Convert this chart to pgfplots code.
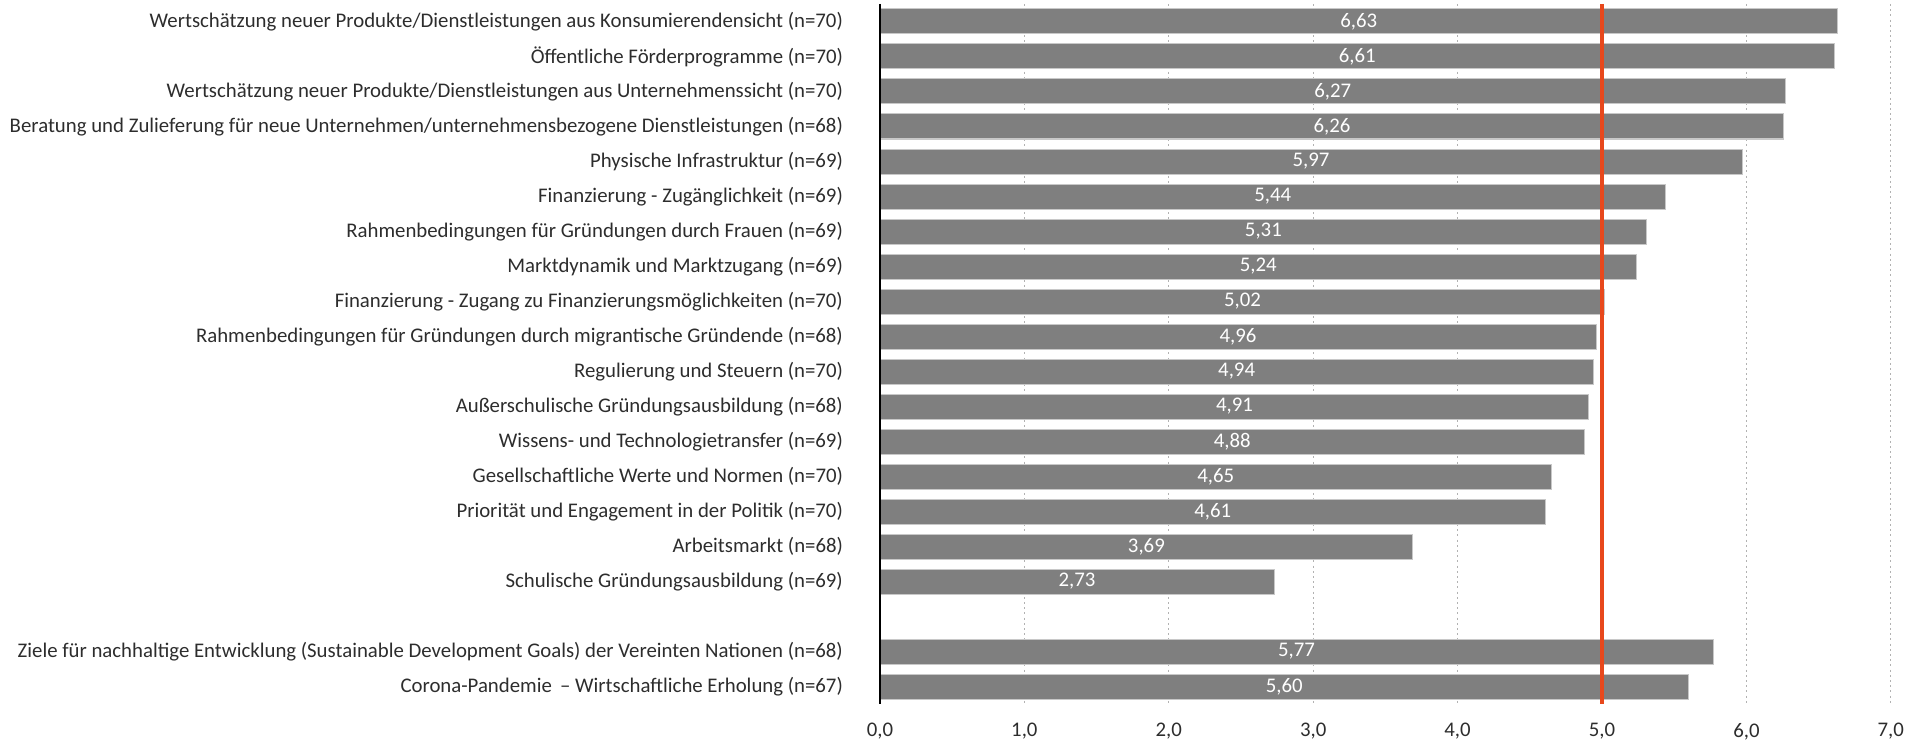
\documentclass[border=0pt]{standalone}
\usepackage{fontspec}
\setmainfont{Carlito}
\usepackage{pgfplots}
\usepackage{pgfplotstable}
\pgfplotsset{compat=1.18}

\definecolor{bargray}{RGB}{127,127,127}
\definecolor{baredge}{RGB}{200,200,200}
\definecolor{refred}{RGB}{232,72,28}
\definecolor{txt}{RGB}{45,45,45}

% position, value (position 17 is the gap)
\pgfplotstableread{
pos v
0 6.63
1 6.61
2 6.27
3 6.26
4 5.97
5 5.44
6 5.31
7 5.24
8 5.02
9 4.96
10 4.94
11 4.91
12 4.88
13 4.65
14 4.61
15 3.69
16 2.73
18 5.77
19 5.60
}\scores

\begin{document}
\begin{tikzpicture}[font=\fontsize{10.4}{12.5}\selectfont, text=txt]
\begin{axis}[
    x=72.2pt, y=17.5pt,
    y dir=reverse,
    xmin=0, xmax=7,
    ymin=-0.5, ymax=19.5,
    axis lines*=left,
    axis line style={-},
    x axis line style={draw=none},
    y axis line style={draw=none},
    major tick length=0pt,
    xtick={0,1,...,7},
    xmajorgrids,
    grid style={gray!60, line width=0.6pt, dash pattern=on 1pt off 1.6pt},
    /pgf/number format/assume math mode=true,
    /pgf/number format/.cd, fixed, fixed zerofill, precision=1, use comma,
    /pgfplots/.cd,
    xticklabel style={yshift=-6pt, text=txt},
    ytick={0,1,2,3,4,5,6,7,8,9,10,11,12,13,14,15,16,18,19},
    yticklabels={
      Wertschätzung neuer Produkte/Dienstleistungen aus Konsumierendensicht (n=70),
      Öffentliche Förderprogramme (n=70),
      Wertschätzung neuer Produkte/Dienstleistungen aus Unternehmenssicht (n=70),
      Beratung und Zulieferung für neue Unternehmen/unternehmensbezogene Dienstleistungen (n=68),
      Physische Infrastruktur (n=69),
      Finanzierung - Zugänglichkeit (n=69),
      Rahmenbedingungen für Gründungen durch Frauen (n=69),
      Marktdynamik und Marktzugang (n=69),
      Finanzierung - Zugang zu Finanzierungsmöglichkeiten (n=70),
      Rahmenbedingungen für Gründungen durch migrantische Gründende (n=68),
      Regulierung und Steuern (n=70),
      Außerschulische Gründungsausbildung (n=68),
      Wissens- und Technologietransfer (n=69),
      Gesellschaftliche Werte und Normen (n=70),
      Priorität und Engagement in der Politik (n=70),
      Arbeitsmarkt (n=68),
      Schulische Gründungsausbildung (n=69),
      Ziele für nachhaltige Entwicklung (Sustainable Development Goals) der Vereinten Nationen (n=68),
      Corona-Pandemie \,– Wirtschaftliche Erholung (n=67)
    },
    yticklabel style={xshift=-15pt, text=txt},
    clip=false,
]
\addplot[xbar, bar width=12.5pt, fill=bargray, draw=baredge, line width=0.5pt,
    point meta=x,
    visualization depends on={\thisrow{v} \as \val},
    nodes near coords={\pgfmathprintnumber[fixed,fixed zerofill,precision=2,use comma,assume math mode=true]{\pgfplotspointmeta}},
    every node near coord/.append style={anchor=center, text=white, xshift={-0.5*\val*72.2pt}},
] table[x=v, y=pos] {\scores};
% left axis line and reference line at 5,0
\addplot[black, line width=1.1pt] coordinates {(0,-0.5) (0,19.5)};
\addplot[refred, line width=1.6pt] coordinates {(5,-0.5) (5,19.5)};
\end{axis}
\pgfresetboundingbox
\useasboundingbox (-440pt,-20pt) rectangle (519.5pt,352pt);
\end{tikzpicture}
\end{document}
